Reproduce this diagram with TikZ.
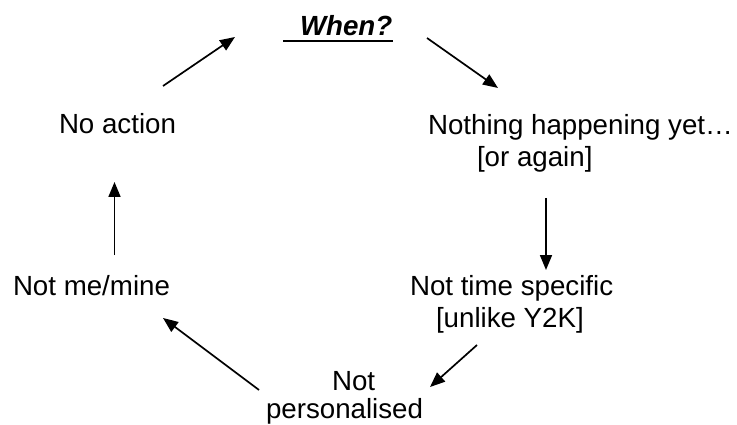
\documentclass[tikz,border=0pt]{standalone}
\usepackage{fontspec}
\setmainfont{Liberation Sans}
\usetikzlibrary{arrows.meta}
\tikzset{
  lbl/.style={anchor=base west, inner sep=0pt, outer sep=0pt, font=\fontsize{27.7}{32}\selectfont},
  flow/.style={line width=1.7pt, -{Triangle[length=15pt,width=12pt]}}
}
\begin{document}
\begin{tikzpicture}[x=1pt,y=-1pt]
\useasboundingbox (0,0) rectangle (737,425);
% labels
\node[lbl, font=\fontsize{27.7}{32}\selectfont\bfseries\itshape] (when) at (300,36) {When?};
\node[lbl] (noaction) at (59,134) {No action};
\node[lbl] (nothing1) at (428,135) {Nothing happening yet…};
\node[lbl] (nothing2) at (477,167) {[or again]};
\node[lbl] (nottime1) at (410,295) {Not time specific};
\node[lbl] (nottime2) at (436,327) {[unlike Y2K]};
\node[lbl] (notpers1) at (332,390) {Not};
\node[lbl] (notpers2) at (266,418.5) {personalised};
\node[lbl] (notme) at (13,295) {Not me/mine};
% underline of "When?"
\coordinate (ulA) at (283,41);
\coordinate (ulB) at (393,41);
\draw[line width=2.6pt] (ulA) -- (ulB);
% arrow end points
\coordinate (a1s) at (163,86);   \coordinate (a1e) at (235,37);
\coordinate (a2s) at (427,38);   \coordinate (a2e) at (498,88);
\coordinate (a3s) at (546,198);  \coordinate (a3e) at (546,270);
\coordinate (a4s) at (477,345);  \coordinate (a4e) at (430,387);
\coordinate (a5s) at (259,390);  \coordinate (a5e) at (163,318);
\coordinate (a6s) at (114.5,255);\coordinate (a6e) at (114.5,182);
\draw[flow] (a1s) -- (a1e);
\draw[flow] (a2s) -- (a2e);
\draw[flow] (a3s) -- (a3e);
\draw[flow] (a4s) -- (a4e);
\draw[flow] (a5s) -- (a5e);
\draw[flow] (a6s) -- (a6e);
\end{tikzpicture}
\end{document}
